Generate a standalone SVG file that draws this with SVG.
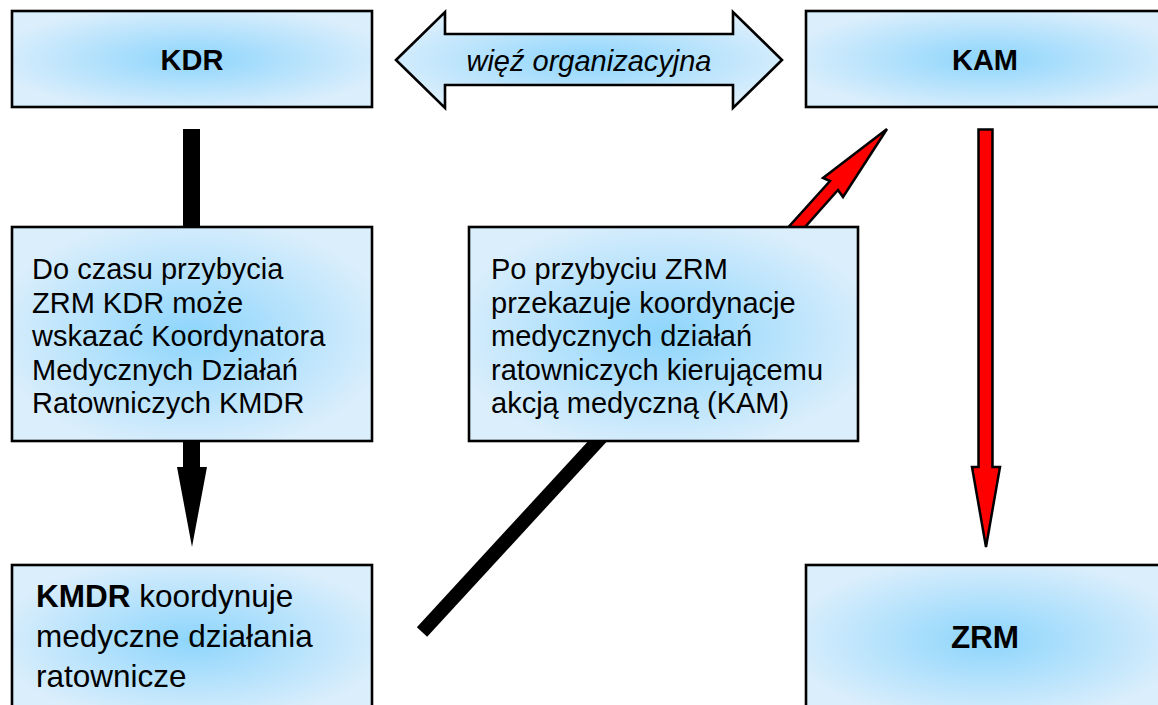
<svg xmlns="http://www.w3.org/2000/svg" width="1158" height="705" viewBox="0 0 1158 705">
  <defs>
    <radialGradient id="g" cx="0.5" cy="0.5" r="0.55">
      <stop offset="0" stop-color="#8dd5fc"/>
      <stop offset="1" stop-color="#daeefc"/>
    </radialGradient>
    <style>
      .box { fill: url(#g); stroke: #000; stroke-width: 2.6; }
      .t { font-family: "Liberation Sans", Arial, sans-serif; font-size: 29px; fill: #000; }
      .h { font-family: "Liberation Sans", Arial, sans-serif; font-size: 29px; font-weight: bold; fill: #000; text-anchor: middle; }
      .big { font-size: 31.5px; }
      .red { fill: #ff0000; stroke: #000; stroke-width: 2.5; stroke-linejoin: miter; }
    </style>
  </defs>
  <rect width="1158" height="705" fill="#fff"/>

  <g id="connectors">
    <!-- KDR down to KMDR -->
    <polygon points="183,129 200,129 200,467 207,467 192,547 177,467 183,467" fill="#000"/>
    <!-- KAM down to ZRM -->
    <polygon class="red" points="978.5,129.5 992.5,129.5 992.5,467 1000,467 986,547 972,467 978.5,467"/>
    <!-- KMDR to KAM (black part) -->
    <line x1="422" y1="632" x2="700" y2="330" stroke="#000" stroke-width="14"/>
    <!-- KMDR to KAM (red part) -->
    <polygon class="red" points="757,262 830,181 823,178 887,129 843,197 838,190 774,262"/>
    <!-- double arrow -->
    <g id="link">
      <polygon points="396,60 445,12 445,34 733,34 733,12 782,60 733,108 733,85 445,85 445,108" fill="url(#g)" stroke="#000" stroke-width="2.6" stroke-linejoin="miter"/>
      <text x="589" y="71" class="t" font-style="italic" text-anchor="middle">więź organizacyjna</text>
    </g>
  </g>

  <g id="kdr">
    <rect class="box" x="12" y="11" width="360" height="96"/>
    <text class="h" x="192" y="70">KDR</text>
  </g>

  <g id="kam">
    <rect class="box" x="806" y="11" width="362" height="96"/>
    <text class="h" x="985" y="70">KAM</text>
  </g>

  <g id="kmdr-info">
    <rect class="box" x="12" y="227" width="360" height="214"/>
    <text class="t" x="32" y="279">Do czasu przybycia</text>
    <text class="t" x="32" y="312.5">ZRM KDR może</text>
    <text class="t" x="32" y="346">wskazać Koordynatora</text>
    <text class="t" x="32" y="379.5">Medycznych Działań</text>
    <text class="t" x="32" y="413">Ratowniczych KMDR</text>
  </g>

  <g id="kam-info">
    <rect class="box" x="469" y="227" width="389" height="214"/>
    <text class="t" x="491" y="279">Po przybyciu ZRM</text>
    <text class="t" x="491" y="312.5">przekazuje koordynacje</text>
    <text class="t" x="491" y="346">medycznych działań</text>
    <text class="t" x="491" y="379.5">ratowniczych kierującemu</text>
    <text class="t" x="491" y="413">akcją medyczną (KAM)</text>
  </g>

  <g id="kmdr">
    <rect class="box" x="12" y="565" width="360" height="150"/>
    <text class="t big" x="36" y="607"><tspan font-weight="bold">KMDR</tspan> koordynuje</text>
    <text class="t big" x="36" y="647">medyczne działania</text>
    <text class="t big" x="36" y="687">ratownicze</text>
  </g>

  <g id="zrm">
    <rect class="box" x="806" y="565" width="362" height="150"/>
    <text class="h big" x="985" y="648">ZRM</text>
  </g>
</svg>
